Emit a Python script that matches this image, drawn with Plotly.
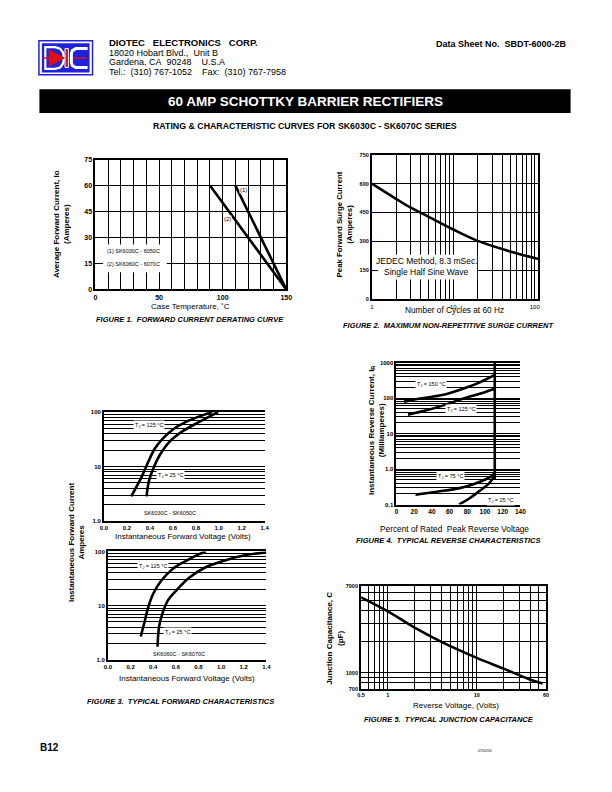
import math
import plotly.graph_objects as go

W, H = 612, 792
FONT = "Liberation Sans"


def px(x):
    return x / W


def py(y):
    return 1 - y / H


# ---------------- data ----------------
# Figure 1: derating
derate_temp_1 = [110, 150]
derate_amp_1 = [60, 0]
derate_temp_2 = [90, 150]
derate_amp_2 = [60, 0]

# Figure 2: surge
surge_cycles = [1, 2, 3, 5, 10, 20, 50, 100, 110]
surge_amps = [600, 520, 475, 428, 362, 303, 248, 214, 210]

# Figure 3 (top): SK6030C - SK6050C
fwd_v_125_a = [0.237, 0.33, 0.386, 0.443, 0.514, 0.60, 0.714, 0.857, 0.943]
fwd_i_125_a = [2.85, 6.6, 12.3, 21.5, 33, 48, 66, 87, 100]
fwd_v_25_a = [0.371, 0.39, 0.43, 0.486, 0.57, 0.686, 0.83, 0.994]
fwd_i_25_a = [2.85, 5.3, 9.3, 16.3, 28.5, 44.6, 66, 100]

# Figure 3 (bottom): SK6060C - SK6070C
fwd_v_125_b = [0.29, 0.32, 0.357, 0.40, 0.472, 0.574, 0.69, 0.806, 0.864]
fwd_i_125_b = [2.7, 4.7, 9.5, 16.6, 29, 48, 67, 89, 100]
fwd_v_25_b = [0.438, 0.452, 0.481, 0.53, 0.603, 0.72, 0.864, 1.04, 1.21, 1.4]
fwd_i_25_b = [1.75, 4.1, 7.1, 12.5, 19, 33, 51, 69, 85, 96]

# Figure 4: reverse characteristics
rev_pct_150 = [8.5, 27, 53, 75, 94, 111]
rev_ma_150 = [79, 97, 123, 182, 275, 446]
rev_pct_125 = [13, 34, 53, 75, 94, 111]
rev_ma_125 = [34, 45, 62, 96, 131, 182]
rev_pct_75 = [21.5, 45.6, 71.5, 90, 105, 111]
rev_ma_75 = [0.19, 0.23, 0.29, 0.40, 0.58, 0.76]
rev_pct_25 = [70.7, 82.6, 93.7, 104.8, 110.4]
rev_ma_25 = [0.1, 0.15, 0.24, 0.40, 0.62]
rev_pct_break = [111, 111]
rev_ma_break = [0.5, 1000]

# Figure 5: junction capacitance
cap_volts = [0.5, 1, 2, 4, 10, 20, 40, 55]
cap_pf = [5400, 3950, 2750, 2000, 1400, 1100, 860, 790]

# tick definitions
f1_x_ticks = list(range(0, 151, 10))
f1_x_text = [str(v) if v % 50 == 0 else "" for v in f1_x_ticks]
f1_y_ticks = [0, 15, 30, 45, 60, 75]
f2_x_ticks = [1, 2, 3, 4, 5, 6, 7, 8, 9, 10, 20, 30, 40, 50, 60, 70, 80, 90, 100]
f2_x_text = ["1", "", "", "", "", "", "", "", "", "10", "", "", "", "", "", "", "", "", "100"]
f2_y_ticks = [0, 150, 300, 450, 600, 750]
f3_y_ticks = [1, 2, 3, 4, 5, 6, 7, 8, 9, 10, 20, 30, 40, 50, 60, 70, 80, 90, 100]
f3_y_text = ["1.0"] + [""] * 8 + ["10"] + [""] * 8 + ["100"]
f3_x_ticks = [0.0, 0.2, 0.4, 0.6, 0.8, 1.0, 1.2, 1.4]
f3_x_text = ["0.0", "0.2", "0.4", "0.6", "0.8", "1.0", "1.2", "1.4"]
f4_y_ticks = [0.1, 0.2, 0.3, 0.4, 0.5, 0.6, 0.7, 0.8, 0.9,
              1, 2, 3, 4, 5, 6, 7, 8, 9,
              10, 20, 30, 40, 50, 60, 70, 80, 90,
              100, 200, 300, 400, 500, 600, 700, 800, 900, 1000]
f4_y_text = ["0.1"] + [""] * 8 + ["1.0"] + [""] * 8 + ["10"] + [""] * 8 + ["100"] + [""] * 8 + ["1000"]
f4_x_ticks = [0, 20, 40, 60, 80, 100, 120, 140]
f5_x_ticks = [0.5, 0.6, 0.7, 0.8, 0.9, 1, 2, 3, 4, 5, 6, 7, 8, 9, 10, 20, 30, 40, 50, 60]
f5_x_text = ["0.5", "", "", "", "", "1"] + [""] * 8 + ["10", "", "", "", "", "60"]
f5_y_ticks = [700, 800, 900, 1000, 2000, 3000, 4000, 5000, 6000, 7000]
f5_y_text = ["700", "", "", "1000", "", "", "", "", "", "7000"]

# ---------------- figure ----------------
fig = go.Figure()
LINE = dict(color="black", width=2.6)


def add(x, y, n, shape="spline"):
    fig.add_trace(go.Scatter(
        x=x, y=y, mode="lines", line=dict(LINE, shape=shape),
        xaxis="x" if n == 1 else f"x{n}", yaxis="y" if n == 1 else f"y{n}",
        hoverinfo="skip", showlegend=False))


add(derate_temp_1, derate_amp_1, 1, "linear")
add(derate_temp_2, derate_amp_2, 1, "linear")
add(surge_cycles, surge_amps, 2)
add(fwd_v_125_a, fwd_i_125_a, 3)
add(fwd_v_25_a, fwd_i_25_a, 3)
add(fwd_v_125_b, fwd_i_125_b, 4)
add(fwd_v_25_b, fwd_i_25_b, 4)
add(rev_pct_150, rev_ma_150, 5)
add(rev_pct_125, rev_ma_125, 5)
add(rev_pct_75, rev_ma_75, 5)
add(rev_pct_25, rev_ma_25, 5)
add(rev_pct_break, rev_ma_break, 5, "linear")
add(cap_volts, cap_pf, 6)


def axis(domain, anchor, size=7, gw=1.3, **kw):
    d = dict(domain=domain, anchor=anchor, showline=True, linecolor="black",
             linewidth=2, ticks="", showgrid=True, gridcolor="black",
             gridwidth=gw, zeroline=False, fixedrange=True,
             tickfont=dict(family=FONT, size=size, color="black", weight="bold"))
    d.update(kw)
    return d


dom = {
    1: ([px(93), px(287)], [py(288), py(157)]),
    2: ([px(374), px(543)], [py(298), py(152)]),
    3: ([px(101.7), px(265)], [py(521.7), py(411.7)]),
    4: ([px(105.7), px(266.7)], [py(661.7), py(552.3)]),
    5: ([px(399), px(525)], [py(505), py(361.7)]),
    6: ([px(363), px(551)], [py(691), py(587)]),
}

layout_axes = {}
# fig 1
layout_axes["xaxis"] = axis(dom[1][0], "y", range=[0, 150], tickmode="array",
                            tickvals=f1_x_ticks, ticktext=f1_x_text, mirror=True)
layout_axes["yaxis"] = axis(dom[1][1], "x", range=[0, 75], tickmode="array",
                            tickvals=f1_y_ticks, ticktext=[str(v) for v in f1_y_ticks], mirror=True)
# fig 2
layout_axes["xaxis2"] = axis(dom[2][0], "y2", size=6, type="log", range=[0, math.log10(110)],
                             tickmode="array", tickvals=f2_x_ticks, ticktext=f2_x_text, mirror=True,
                             tickfont=dict(family=FONT, size=6, color="black"))
layout_axes["yaxis2"] = axis(dom[2][1], "x2", size=5.5, range=[0, 750], tickmode="array",
                             tickvals=f2_y_ticks, ticktext=[str(v) for v in f2_y_ticks], mirror=True)
# fig 3 top
layout_axes["xaxis3"] = axis(dom[3][0], "y3", size=6, range=[0, 1.4], showgrid=False, mirror=True,
                             tickmode="array", tickvals=f3_x_ticks, ticktext=f3_x_text)
layout_axes["yaxis3"] = axis(dom[3][1], "x3", size=6, gw=1, type="log", range=[0, 2],
                             tickmode="array", tickvals=f3_y_ticks, ticktext=f3_y_text)
# fig 3 bottom
layout_axes["xaxis4"] = axis(dom[4][0], "y4", size=6, range=[0, 1.4], showgrid=False, mirror=True,
                             tickmode="array", tickvals=f3_x_ticks, ticktext=f3_x_text)
layout_axes["yaxis4"] = axis(dom[4][1], "x4", size=6, gw=1, type="log", range=[0, 2],
                             tickmode="array", tickvals=f3_y_ticks, ticktext=f3_y_text)
# fig 4
layout_axes["xaxis5"] = axis(dom[5][0], "y5", size=6.5, range=[0, 140], showgrid=False, mirror=True,
                             tickmode="array", tickvals=f4_x_ticks, ticktext=[str(v) for v in f4_x_ticks])
layout_axes["yaxis5"] = axis(dom[5][1], "x5", size=6, gw=1, type="log", range=[-1, 3],
                             tickmode="array", tickvals=f4_y_ticks, ticktext=f4_y_text)
# fig 5
layout_axes["xaxis6"] = axis(dom[6][0], "y6", size=5.5, type="log",
                             range=[math.log10(0.5), math.log10(60)], mirror=True,
                             tickmode="array", tickvals=f5_x_ticks, ticktext=f5_x_text)
layout_axes["yaxis6"] = axis(dom[6][1], "x6", size=5.5, type="log",
                             range=[math.log10(700), math.log10(7000)], mirror=True,
                             tickmode="array", tickvals=f5_y_ticks, ticktext=f5_y_text)

ann = []
shapes = []


def text(x, y, s, size=8, bold=False, italic=False, color="black", xanchor="center",
         yanchor="middle", angle=0, xref="paper", yref="paper", bg=None, pad=0, align="center"):
    if xref == "paper":
        x = px(x)
    if yref == "paper":
        y = py(y)
    f = dict(family=FONT, size=size, color=color)
    if bold:
        f["weight"] = "bold"
    if italic:
        f["style"] = "italic"
    a = dict(x=x, y=y, xref=xref, yref=yref, text=s, showarrow=False, font=f,
             xanchor=xanchor, yanchor=yanchor, textangle=angle, align=align, borderpad=pad)
    if bg:
        a["bgcolor"] = bg
    ann.append(a)


def rect(x0, y0, x1, y1, fill, line=None, lw=0, layer="above"):
    shapes.append(dict(type="rect", xref="paper", yref="paper", x0=px(x0), x1=px(x1),
                       y0=py(y1), y1=py(y0), fillcolor=fill, layer=layer,
                       line=dict(color=line or fill, width=lw)))


def path(points, fill=None, line="white", lw=2, close=False):
    d = "M " + " L ".join(f"{px(a):.5f},{py(b):.5f}" for a, b in points)
    if close:
        d += " Z"
    s = dict(type="path", xref="paper", yref="paper", path=d, layer="above",
             line=dict(color=line, width=lw))
    if fill:
        s["fillcolor"] = fill
    shapes.append(s)


# ---------------- header ----------------
BLUE = "#2020dd"
rect(35.5, 37, 90, 71.5, "white", BLUE, 1.5)
rect(38.5, 39.5, 87, 69, BLUE)
# D
path([(42, 43.5), (52, 43.5), (57, 45), (60, 49), (61, 54.5), (60, 60), (57, 64), (52, 65.5), (42, 65.5)],
     line="white", lw=2.2, close=True)
# red line and diode
path([(40, 54.5), (84, 54.5)], line="#e01010", lw=1.6)
path([(46, 46.5), (46, 62.5), (61, 54.5)], fill="#e01010", line="#e01010", lw=1, close=True)
rect(62, 45, 65.5, 64, "#e01010", "white", 1)
# C
path([(85, 45), (73, 45), (69.5, 47), (68.5, 50), (68.5, 59), (69.5, 62), (73, 64), (85, 64)],
     line="white", lw=3)

text(106, 38.5, "DIOTEC&nbsp;&nbsp;&nbsp;ELECTRONICS&nbsp;&nbsp;&nbsp;CORP.", 9.5, bold=True, xanchor="left")
text(106, 49, "18020 Hobart Blvd.,&nbsp;&nbsp;Unit B", 9, xanchor="left")
text(106, 59, "Gardena, CA&nbsp;&nbsp;90248&nbsp;&nbsp;&nbsp;&nbsp;U.S.A", 9, xanchor="left")
text(106, 69, "Tel.:&nbsp;&nbsp;(310) 767-1052&nbsp;&nbsp;&nbsp;&nbsp;Fax:&nbsp;&nbsp;(310) 767-7958", 9, xanchor="left")
text(573, 40, "Data Sheet No.&nbsp;&nbsp;SBDT-6000-2B", 9, bold=True, xanchor="right")

rect(36, 86, 576, 110, "black")
text(306, 98, "60 AMP SCHOTTKY BARRIER RECTIFIERS", 13.5, bold=True, color="white")
text(306, 123, "RATING &amp; CHARACTERISTIC CURVES FOR SK6030C - SK6070C SERIES", 8.8, bold=True)

# ---------------- figure 1 ----------------
shapes.append(dict(type="rect", xref="x", yref="y", x0=6, x1=56, y0=10, y1=26,
                   fillcolor="white", line=dict(width=0), layer="above"))
text(8, 22.3, "(1) SK6030C - 6050C", 5.5, xref="x", yref="y", xanchor="left")
text(8, 14.8, "(2) SK6060C - 6070C", 5.5, xref="x", yref="y", xanchor="left")
text(116, 57.5, "(1)", 6, xref="x", yref="y", bg="white")
text(104, 40.5, "(2)", 6, xref="x", yref="y", bg="white")
text(190, 305, "Case Temperature, ˚C", 8)
text(58, 222, "Average Forward Current, Io<br>(Amperes)", 8, bold=True, angle=-90)
text(189, 318, "FIGURE 1.&nbsp;&nbsp;FORWARD CURRENT DERATING CURVE", 7.5, bold=True, italic=True)

# ---------------- figure 2 ----------------
rect(380, 253, 481, 278, "white")
text(430, 259, "JEDEC Method, 8.3 mSec.", 8.5)
text(430, 270, "Single Half Sine Wave", 8.5)
text(458, 309, "Number of Cycles at 60 Hz", 8.3)
text(346, 222, "Peak Forward Surge Current<br>(Amperes)", 7.8, bold=True, angle=-90)
text(452, 324, "FIGURE 2.&nbsp;&nbsp;MAXIMUM NON-REPETITIVE SURGE CURRENT", 7.5, bold=True, italic=True)

# ---------------- figure 3 ----------------
text(0.39, math.log10(57), "T<sub>J</sub> = 125 °C", 5.5, xref="x3", yref="y3", bg="white", pad=1)
text(0.577, math.log10(7.0), "T<sub>J</sub> = 25 °C", 5.5, xref="x3", yref="y3", bg="white", pad=1)
text(0.571, math.log10(1.42), "SK6030C - SK6050C", 5.5, xref="x3", yref="y3", bg="white", pad=1)
text(182, 537, "Instantaneous Forward Voltage (Volts)", 8)

text(0.40, math.log10(52), "T<sub>J</sub> = 125 °C", 5.5, xref="x4", yref="y4", bg="white", pad=1)
text(0.617, math.log10(3.2), "T<sub>J</sub> = 25 °C", 5.5, xref="x4", yref="y4", bg="white", pad=1)
text(0.632, math.log10(1.27), "SK6060C - SK6070C", 5.5, xref="x4", yref="y4", bg="white", pad=1)
text(186, 681, "Instantaneous Forward Voltage (Volts)", 8)

text(73, 543, "Instantaneous Forward Current<br>Amperes", 8, bold=True, angle=-90)
text(179, 704, "FIGURE 3.&nbsp;&nbsp;TYPICAL FORWARD CHARACTERISTICS", 7.5, bold=True, italic=True)

# ---------------- figure 4 ----------------
text(39, math.log10(234), "T<sub>J</sub> = 150 °C", 5.5, xref="x5", yref="y5", bg="white", pad=1)
text(73, math.log10(48), "T<sub>J</sub> = 125 °C", 5.5, xref="x5", yref="y5", bg="white", pad=1)
text(61, math.log10(0.62), "T<sub>J</sub> = 75 °C", 5.5, xref="x5", yref="y5", bg="white", pad=1)
text(118, math.log10(0.13), "T<sub>J</sub> = 25 °C", 5.5, xref="x5", yref="y5", bg="white", pad=1)
text(458, 530, "Percent of Rated&nbsp;&nbsp;Peak Reverse Voltage", 8.3)
text(378, 430, "Instantaneous Reverse Current, I<sub>R</sub><br>(Milliamperes)", 8, bold=True, angle=-90)
text(451, 541, "FIGURE 4.&nbsp;&nbsp;TYPICAL REVERSE CHARACTERISTICS", 7.5, bold=True, italic=True)

# ---------------- figure 5 ----------------
text(459, 708, "Reverse Voltage, (Volts)", 8)
text(336, 640, "Junction Capacitance, C<br>(pF)", 8, bold=True, angle=-90)
text(452, 722, "FIGURE 5.&nbsp;&nbsp;TYPICAL JUNCTION CAPACITANCE", 7.5, bold=True, italic=True)

# ---------------- footer ----------------
text(36, 750, "B12", 10, bold=True, xanchor="left")
text(489, 754, "07/10/00", 3.5)

fig.update_layout(
    width=W, height=H, margin=dict(l=0, r=0, t=0, b=0),
    paper_bgcolor="white", plot_bgcolor="white", showlegend=False,
    annotations=ann, shapes=shapes, **layout_axes)

fig.write_html("out.html", config=dict(displayModeBar=False),
               post_script="document.body.style.margin='0px';document.body.style.overflow='hidden';")
